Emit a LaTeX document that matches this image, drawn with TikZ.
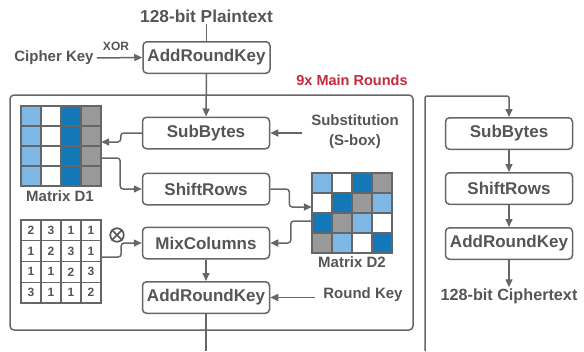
\documentclass[tikz,border=0pt]{standalone}
\usepackage{fontspec}
\setmainfont{Liberation Sans}
\usetikzlibrary{arrows.meta}
\definecolor{tx}{HTML}{555555}
\definecolor{ln}{HTML}{666666}
\definecolor{lb}{HTML}{7DB8E6}
\definecolor{db}{HTML}{1478B8}
\definecolor{gr}{HTML}{999999}
\definecolor{rd}{HTML}{C8283C}
\begin{document}
\begin{tikzpicture}[x=1pt,y=-1pt,
  box/.style={draw=ln, line width=1.5pt, rounded corners=4pt, minimum width=127pt, minimum height=31.5pt, inner sep=0pt, text=tx, font=\fontsize{17}{20}\selectfont\bfseries},
  lbl/.style={text=tx, font=\fontsize{15}{20}\selectfont\bfseries, inner sep=1pt},
  conn/.style={draw=ln, line width=1.5pt, rounded corners=3pt, -{Triangle[length=8pt,width=7pt]}},
  plain/.style={draw=ln, line width=1.5pt, rounded corners=3pt},
  cell/.style={draw=ln, line width=1.2pt, minimum width=20pt, minimum height=20pt, inner sep=0pt},
  ncell/.style={draw=ln, line width=1.2pt, minimum width=20pt, minimum height=20.75pt, inner sep=0pt, text=tx, font=\fontsize{12}{14}\selectfont\bfseries},
  ghost/.style={inner sep=0pt, minimum width=80pt, minimum height=80pt}]
\useasboundingbox (0,0) rectangle (584,351);

% top
\node[lbl, font=\fontsize{17.3}{20}\selectfont\bfseries] (pt) at (206.5,16) {128-bit Plaintext};
\node[box] (ark0) at (206.5,57.5) {AddRoundKey};
\node[lbl] (ck) at (54,58) {Cipher Key};
\node[lbl, font=\fontsize{12}{14}\selectfont\bfseries] (xor) at (116,46) {XOR};
\draw[plain] (pt) -- (ark0);
\draw[conn] ([xshift=2pt]ck.east) -- (ark0.west);

% main rounds frame
\node[draw=ln, line width=1.5pt, rounded corners=4pt, minimum width=403pt, minimum height=235pt, inner sep=0pt] (main) at (211.5,212.5) {};
\node[lbl, text=rd, font=\fontsize{14.5}{17}\selectfont\bfseries] (title) at (352,80) {9x Main Rounds};

\node[box] (sb) at (206,133) {SubBytes};
\node[box] (sr) at (206,189) {ShiftRows};
\node[box] (mc) at (206,243) {MixColumns};
\node[box] (ark) at (206,297.5) {AddRoundKey};
\draw[conn] (ark0) -- (sb);
\draw[conn] (mc) -- (ark);
\coordinate (outL) at (206,351);
\draw[plain] (ark.south) -- (outL);

% S-box and round key inputs
\node[lbl, align=center] (sbox) at (355,132) {Substitution\\(S-box)};
\coordinate (sboxin) at (302,133);
\draw[conn] (sboxin) -- (sb.east);
\node[lbl] (rk) at (363,295) {Round Key};
\coordinate (rkin) at (315,297.5);
\draw[conn] (rkin) -- (ark.east);

% Matrix D1
\foreach \c/\col in {1/lb,2/white,3/db,4/gr}
  \foreach \r in {1,2,3,4}
    \node[cell, fill=\col] (d1-\r-\c) at (11+20*\c, 96+20*\r) {};
\node[ghost] (D1) at (61,146) {};
\node[lbl] (d1l) at (60,196) {Matrix D1};
\draw[conn] (sb.west) -- ++(-21,0) |- ([yshift=4pt]D1.east);
\draw[conn] ([yshift=-12pt]D1.east) -- ++(19,0) |- (sr.west);

% Matrix D2
\foreach \r/\a/\b/\cc/\d in {1/lb/white/db/gr, 2/white/db/gr/lb, 3/db/gr/lb/white, 4/gr/lb/white/db}{
  \node[cell, fill=\a]  (d2-\r-1) at (322, 163+20*\r) {};
  \node[cell, fill=\b]  (d2-\r-2) at (342, 163+20*\r) {};
  \node[cell, fill=\cc] (d2-\r-3) at (362, 163+20*\r) {};
  \node[cell, fill=\d]  (d2-\r-4) at (382, 163+20*\r) {};
}
\node[ghost] (D2) at (352,213) {};
\node[lbl] (d2l) at (352,262) {Matrix D2};
\draw[conn] (sr.east) -- ++(19,0) |- ([yshift=6pt]D2.west);
\draw[conn] ([yshift=-8pt]D2.west) -- ++(-21,0) |- (mc.east);

% MixColumns matrix
\foreach \r/\a/\b/\cc/\d in {1/2/3/1/1, 2/1/2/3/1, 3/1/1/2/3, 4/3/1/1/2}{
  \node[ncell] (m-\r-1) at (31, 209.6+20.75*\r) {\a};
  \node[ncell] (m-\r-2) at (51, 209.6+20.75*\r) {\b};
  \node[ncell] (m-\r-3) at (71, 209.6+20.75*\r) {\cc};
  \node[ncell] (m-\r-4) at (91, 209.6+20.75*\r) {\d};
}
\node[inner sep=0pt, minimum width=80pt, minimum height=83pt] (M) at (61,261.5) {};
\node[circle, draw=tx, line width=1.7pt, minimum size=13.5pt, inner sep=0pt] (ox) at (117,235) {};
\draw[tx, line width=1.7pt] (ox.45) -- (ox.225) (ox.135) -- (ox.315);
\draw[conn] ([yshift=4.5pt]M.east) -- ++(20,0) |- (mc.west);

% final round
\coordinate (outR) at (425,351);
\coordinate (turn) at (509,96);
\node[box] (sb2) at (509,133.5) {SubBytes};
\node[box] (sr2) at (509,188.5) {ShiftRows};
\node[box] (ark2) at (509,243.5) {AddRoundKey};
\node[lbl, font=\fontsize{16.2}{20}\selectfont\bfseries] (ct) at (509,296) {128-bit Ciphertext};
\draw[conn, rounded corners=2pt] (outR) |- (turn) -- (sb2.north);
\draw[conn] (sb2) -- (sr2);
\draw[conn] (sr2) -- (ark2);
\draw[conn] (ark2) -- (ct);
\end{tikzpicture}
\end{document}
